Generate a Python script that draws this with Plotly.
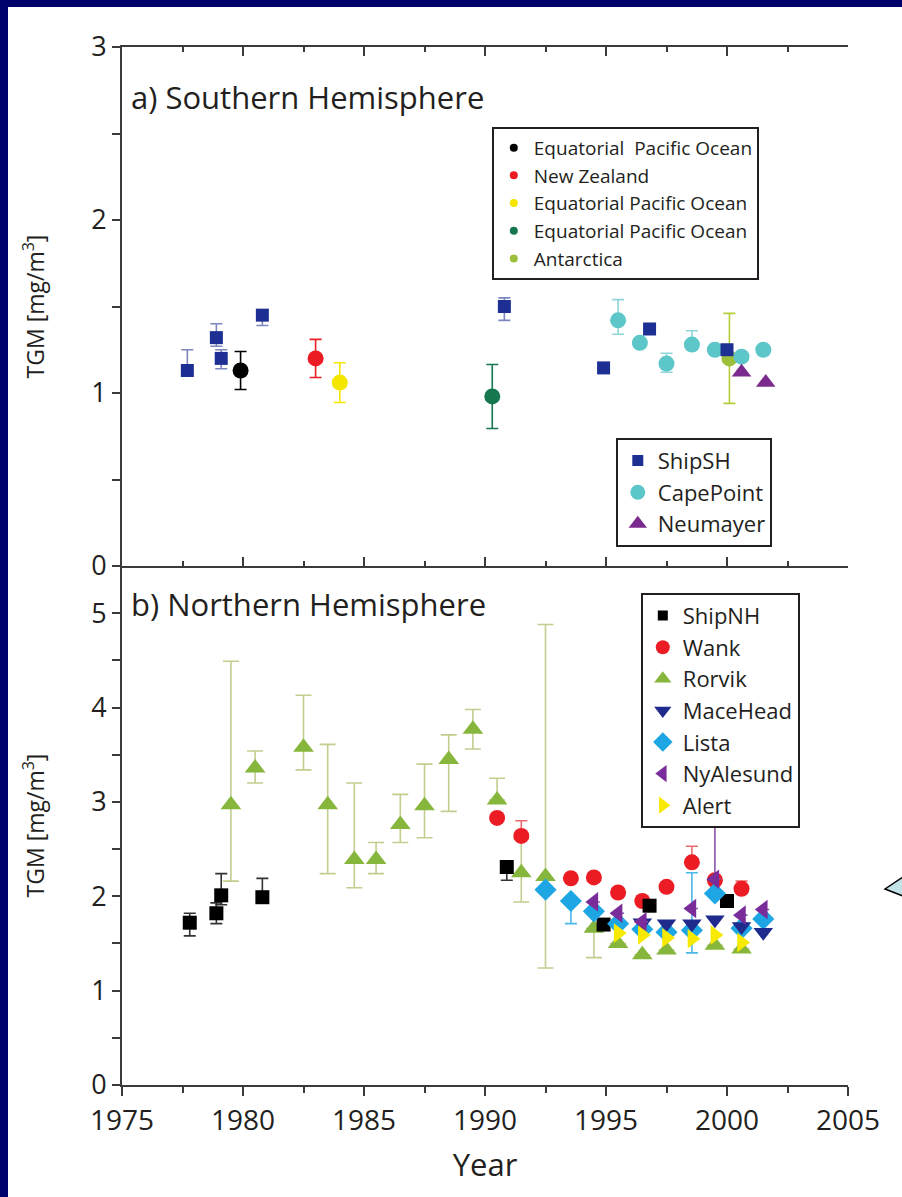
import plotly.graph_objects as go

# ---------------- data: Southern Hemisphere ----------------
shipsh_year = [1977.7, 1978.9, 1979.1, 1980.8, 1990.8, 1994.9, 1996.8, 2000.0]
shipsh_tgm = [1.13, 1.32, 1.20, 1.45, 1.50, 1.145, 1.37, 1.25]
shipsh_err_hi = [0.12, 0.08, 0.05, 0.03, 0.05, 0.0, 0.0, 0.0]
shipsh_err_lo = [0.0, 0.05, 0.06, 0.06, 0.08, 0.0, 0.0, 0.0]

epo1_year = [1979.9]
epo1_tgm = [1.13]
epo1_err = [0.11]

nz_year = [1983.0]
nz_tgm = [1.20]
nz_err = [0.11]

epo2_year = [1984.0]
epo2_tgm = [1.06]
epo2_err = [0.115]

epo3_year = [1990.3]
epo3_tgm = [0.98]
epo3_err = [0.185]

antarctica_year = [2000.1]
antarctica_tgm = [1.20]
antarctica_err = [0.26]

capepoint_year = [1995.5, 1996.4, 1997.5, 1998.55, 1999.5, 2000.6, 2001.5]
capepoint_tgm = [1.42, 1.29, 1.17, 1.28, 1.25, 1.21, 1.25]
capepoint_err_hi = [0.12, 0.0, 0.06, 0.08, 0.0, 0.0, 0.0]
capepoint_err_lo = [0.08, 0.0, 0.05, 0.0, 0.0, 0.0, 0.0]

neumayer_year = [2000.6, 2001.6]
neumayer_tgm = [1.12, 1.06]

# ---------------- data: Northern Hemisphere ----------------
shipnh_year = [1977.8, 1978.9, 1979.1, 1980.8, 1990.9, 1994.9, 1996.8, 2000.0]
shipnh_tgm = [1.72, 1.82, 2.01, 1.99, 2.31, 1.70, 1.90, 1.95]
shipnh_err_hi = [0.10, 0.11, 0.23, 0.20, 0.0, 0.0, 0.0, 0.0]
shipnh_err_lo = [0.14, 0.11, 0.10, 0.0, 0.14, 0.0, 0.0, 0.0]

wank_year = [1990.5, 1991.5, 1993.55, 1994.5, 1995.5, 1996.5, 1997.5, 1998.55, 1999.5, 2000.6]
wank_tgm = [2.83, 2.64, 2.19, 2.20, 2.04, 1.95, 2.10, 2.36, 2.17, 2.08]
wank_err_hi = [0.0, 0.16, 0.05, 0.05, 0.05, 0.05, 0.0, 0.17, 0.0, 0.08]
wank_err_lo = [0.0, 0.0, 0.0, 0.0, 0.0, 0.0, 0.0, 0.0, 0.0, 0.0]

rorvik_year = [1979.5, 1980.5, 1982.5, 1983.5, 1984.6, 1985.5, 1986.5, 1987.5, 1988.5,
               1989.5, 1990.5, 1991.5, 1992.5, 1994.5, 1995.5, 1996.5, 1997.5, 1999.5, 2000.6]
rorvik_tgm = [2.97, 3.36, 3.58, 2.97, 2.39, 2.39, 2.76, 2.96, 3.45,
              3.77, 3.02, 2.25, 2.21, 1.66, 1.50, 1.38, 1.43, 1.48, 1.44]
rorvik_err_hi = [1.52, 0.18, 0.55, 0.64, 0.81, 0.18, 0.32, 0.44, 0.26,
                 0.21, 0.23, 0.36, 2.67, 0.0, 0.0, 0.0, 0.0, 0.0, 0.0]
rorvik_err_lo = [0.81, 0.16, 0.24, 0.73, 0.30, 0.15, 0.19, 0.34, 0.55,
                 0.21, 0.0, 0.31, 0.97, 0.31, 0.0, 0.0, 0.0, 0.0, 0.0]

macehead_year = [1996.5, 1997.5, 1998.55, 1999.5, 2000.6, 2001.5]
macehead_tgm = [1.72, 1.71, 1.71, 1.75, 1.68, 1.62]

lista_year = [1992.5, 1993.55, 1994.5, 1995.5, 1996.5, 1997.5, 1998.55, 1999.5, 2000.6, 2001.5]
lista_tgm = [2.07, 1.95, 1.84, 1.71, 1.65, 1.62, 1.64, 2.03, 1.66, 1.76]
lista_err_hi = [0.0, 0.0, 0.0, 0.0, 0.0, 0.0, 0.61, 0.0, 0.0, 0.0]
lista_err_lo = [0.0, 0.24, 0.0, 0.0, 0.0, 0.0, 0.24, 0.0, 0.0, 0.0]

nyalesund_year = [1994.5, 1995.5, 1996.5, 1998.55, 1999.5, 2000.6, 2001.5]
nyalesund_tgm = [1.94, 1.82, 1.73, 1.87, 2.18, 1.80, 1.86]
nyalesund_err_hi = [0.0, 0.0, 0.0, 0.0, 0.8, 0.0, 0.0]

alert_year = [1995.5, 1996.5, 1997.5, 1998.55, 1999.5, 2000.6]
alert_tgm = [1.61, 1.59, 1.56, 1.55, 1.59, 1.51]

# ---------------- layout constants (pixels) ----------------
W, H = 902, 1197
L, R, T, B = 122, 848, 47, 1085
NAVY = "#00006a"
FONT = "Open Sans"
INK = "#231f20"
AX = "#3a3a3a"


def px_x(px):
    return (px - L) / (R - L)


def px_y(py):
    return (B - py) / (B - T)


fig = go.Figure()


def add_series(x, y, name, symbol, size, color, legend, xa, ya,
               ehi=None, elo=None, ecolor=None, ewidth=5, lsize=None):
    err = None
    if ehi is not None:
        err = dict(type="data", symmetric=False, array=ehi,
                   arrayminus=elo if elo is not None else ehi,
                   color=ecolor or color, thickness=1.6, width=ewidth)
    fig.add_trace(go.Scatter(
        x=x, y=y, mode="markers", name=name, legendgroup=name + legend,
        showlegend=False, xaxis=xa, yaxis=ya,
        marker=dict(symbol=symbol, size=size, color=color, line=dict(width=0)),
        error_y=err, cliponaxis=False))
    # legend entry for the series
    fig.add_trace(go.Scatter(
        x=[None], y=[None], mode="markers", name=name, legendgroup=name + legend,
        legend=legend, xaxis=xa, yaxis=ya,
        marker=dict(symbol=symbol, size=lsize or size, color=color, line=dict(width=0))))


# Southern Hemisphere panel
add_series(epo1_year, epo1_tgm, "Equatorial  Pacific Ocean", "circle", 16, "#000000", "legend",
           "x", "y", epo1_err, epo1_err, "#000000", 6, 8)
add_series(nz_year, nz_tgm, "New Zealand", "circle", 16, "#ec1c24", "legend",
           "x", "y", nz_err, nz_err, "#ec1c24", 6, 8)
add_series(epo2_year, epo2_tgm, "Equatorial Pacific Ocean", "circle", 16, "#f5e600", "legend",
           "x", "y", epo2_err, epo2_err, "#f5e600", 6, 8)
add_series(epo3_year, epo3_tgm, "Equatorial Pacific Ocean ", "circle", 16, "#17784f", "legend",
           "x", "y", epo3_err, epo3_err, "#17784f", 6, 8)
add_series(antarctica_year, antarctica_tgm, "Antarctica", "circle", 16, "#9cbf3b", "legend",
           "x", "y", antarctica_err, antarctica_err, "#b8cc3a", 6, 8)
add_series(capepoint_year, capepoint_tgm, "CapePoint", "circle", 16, "#5cc6c8", "legend2",
           "x", "y", capepoint_err_hi, capepoint_err_lo, "#8fd6d8", 6, 15)
add_series(shipsh_year, shipsh_tgm, "ShipSH", "square", 13, "#1d2f93", "legend2",
           "x", "y", shipsh_err_hi, shipsh_err_lo, "#7d86bd", 6, 11)
add_series(neumayer_year, neumayer_tgm, "Neumayer", "triangle-up", 17, "#7b2b8e", "legend2",
           "x", "y", lsize=16)

# Northern Hemisphere panel
add_series(rorvik_year, rorvik_tgm, "Rorvik", "triangle-up", 18, "#86b63b", "legend3",
           "x2", "y2", rorvik_err_hi, rorvik_err_lo, "#c2cd8e", 8, 15)
add_series(wank_year, wank_tgm, "Wank", "circle", 16, "#ec1c24", "legend3",
           "x2", "y2", wank_err_hi, wank_err_lo, "#ec6a6f", 6, 14)
add_series(shipnh_year, shipnh_tgm, "ShipNH", "square", 14, "#000000", "legend3",
           "x2", "y2", shipnh_err_hi, shipnh_err_lo, "#333333", 6, 10)
add_series(lista_year, lista_tgm, "Lista", "diamond", 17, "#1ea6e4", "legend3",
           "x2", "y2", lista_err_hi, lista_err_lo, "#4bb8ea", 6, 15)
add_series(macehead_year, macehead_tgm, "MaceHead", "triangle-down", 17, "#1e2b8c", "legend3",
           "x2", "y2", lsize=15)
add_series(nyalesund_year, nyalesund_tgm, "NyAlesund", "triangle-left", 17, "#7a2c9a", "legend3",
           "x2", "y2", nyalesund_err_hi, [0.0] * len(nyalesund_tgm), "#8a55a8", 6, 15)
add_series(alert_year, alert_tgm, "Alert", "triangle-right", 17, "#f7ea00", "legend3",
           "x2", "y2", lsize=15)

# keep legend order as listed in each box
legend_order = {
    "Equatorial  Pacific Ocean": 1, "New Zealand": 2, "Equatorial Pacific Ocean": 3,
    "Equatorial Pacific Ocean ": 4, "Antarctica": 5,
    "ShipSH": 1, "CapePoint": 2, "Neumayer": 3,
    "ShipNH": 1, "Wank": 2, "Rorvik": 3, "MaceHead": 4, "Lista": 5, "NyAlesund": 6, "Alert": 7,
}
for tr in fig.data:
    tr.legendrank = legend_order[tr.name]

axis_line = dict(showline=True, linecolor=AX, linewidth=2, showgrid=False, zeroline=False)
ytickfont = dict(family=FONT, size=27, color=INK)
ytitle_font = dict(family=FONT, size=23, color=INK)

fig.update_layout(
    width=W, height=H,
    margin=dict(l=L, r=W - R, t=T, b=H - B, pad=0),
    paper_bgcolor="white", plot_bgcolor="white",
    font=dict(family=FONT, color=INK),
    xaxis=dict(domain=[0, 1], anchor="y", range=[1975, 2005], ticks="inside", dtick=5,
               tick0=1975, ticklen=9, tickwidth=1.6, tickcolor=AX,
               minor=dict(dtick=2.5, ticklen=5, tickwidth=1.6, tickcolor=AX, ticks="inside"),
               showticklabels=False, mirror="ticks", **axis_line),
    yaxis=dict(domain=[0.5, 1], anchor="x", range=[0, 3], ticks="outside", dtick=1,
               ticklen=8, tickwidth=1.6, tickcolor=AX, tickfont=ytickfont,
               minor=dict(dtick=0.5, ticklen=8, tickwidth=1.6, tickcolor=AX, ticks="outside"),
               title=dict(text="TGM [mg/m<sup>3</sup>]", font=ytitle_font, standoff=40),
               **axis_line),
    yaxis3=dict(overlaying="y", anchor="x", side="right", range=[0, 3], ticks="inside",
                dtick=0.4, tick0=0, ticklen=12, tickwidth=1.6, tickcolor=AX,
                minor=dict(dtick=0.2, ticklen=8, tickwidth=1.6, tickcolor=AX, ticks="inside"),
                showticklabels=False, **axis_line),
    xaxis2=dict(domain=[0, 1], anchor="y2", range=[1975, 2005], ticks="outside", dtick=5,
                tick0=1975, ticklen=9, tickwidth=1.6, tickcolor=AX,
                tickfont=dict(family=FONT, size=28, color=INK),
                minor=dict(dtick=2.5, ticklen=6, tickwidth=1.6, tickcolor=AX, ticks="outside"),
                title=dict(text="Year", font=dict(family=FONT, size=31, color=INK), standoff=18),
                **axis_line),
    xaxis3=dict(overlaying="x2", anchor="y2", side="top", range=[1975, 2005], ticks="inside",
                dtick=5, tick0=1975, ticklen=9, tickwidth=1.6, tickcolor=AX,
                minor=dict(dtick=2.5, ticklen=5, tickwidth=1.6, tickcolor=AX, ticks="inside"),
                showticklabels=False, **axis_line),
    yaxis2=dict(domain=[0, 0.5], anchor="x2", range=[0, 5.5], ticks="outside", dtick=1,
                ticklen=8, tickwidth=1.6, tickcolor=AX, tickfont=ytickfont,
                minor=dict(dtick=0.5, ticklen=8, tickwidth=1.6, tickcolor=AX, ticks="outside"),
                title=dict(text="TGM [mg/m<sup>3</sup>]", font=ytitle_font, standoff=40),
                **axis_line),
    yaxis4=dict(overlaying="y2", anchor="x2", side="right", range=[0, 5.5], ticks="inside",
                dtick=0.55, tick0=0, ticklen=10, tickwidth=1.6, tickcolor=AX,
                showticklabels=False, **axis_line),
    legend=dict(x=px_x(492), y=px_y(127), xanchor="left", yanchor="top",
                bgcolor="white", bordercolor=INK, borderwidth=1.8,
                font=dict(family=FONT, size=19, color=INK), tracegroupgap=0,
                itemwidth=30, traceorder="normal"),
    legend2=dict(x=px_x(616), y=px_y(438), xanchor="left", yanchor="top",
                 bgcolor="white", bordercolor=INK, borderwidth=1.8,
                 font=dict(family=FONT, size=22, color=INK), tracegroupgap=0,
                 itemwidth=30, traceorder="normal"),
    legend3=dict(x=px_x(641), y=px_y(593), xanchor="left", yanchor="top",
                 bgcolor="white", bordercolor=INK, borderwidth=1.8,
                 font=dict(family=FONT, size=22, color=INK), tracegroupgap=0,
                 itemwidth=30, traceorder="normal"),
    showlegend=True,
)

# panel titles
fig.add_annotation(text="a) Southern Hemisphere", x=px_x(129), y=px_y(97), xref="paper", yref="paper",
                   xanchor="left", yanchor="middle", showarrow=False,
                   font=dict(family=FONT, size=31, color=INK))
fig.add_annotation(text="b) Northern Hemisphere", x=px_x(129), y=px_y(604), xref="paper", yref="paper",
                   xanchor="left", yanchor="middle", showarrow=False,
                   font=dict(family=FONT, size=31, color=INK))

# slide frame: navy strips on the left and top
fig.add_shape(type="rect", xref="paper", yref="paper", x0=px_x(0), x1=px_x(8), y0=px_y(H), y1=px_y(0),
              fillcolor=NAVY, line=dict(width=0), layer="below")
fig.add_shape(type="rect", xref="paper", yref="paper", x0=px_x(0), x1=px_x(W), y0=px_y(7), y1=px_y(0),
              fillcolor=NAVY, line=dict(width=0), layer="below")

# pointer of a callout at the right edge
fig.add_shape(type="path", xref="paper", yref="paper",
              path=f"M {px_x(903)} {px_y(877)} L {px_x(885)} {px_y(889)} L {px_x(903)} {px_y(896)} Z",
              fillcolor="#c3e3e6", line=dict(color="#000000", width=1.5))

fig.write_html("out.html")
